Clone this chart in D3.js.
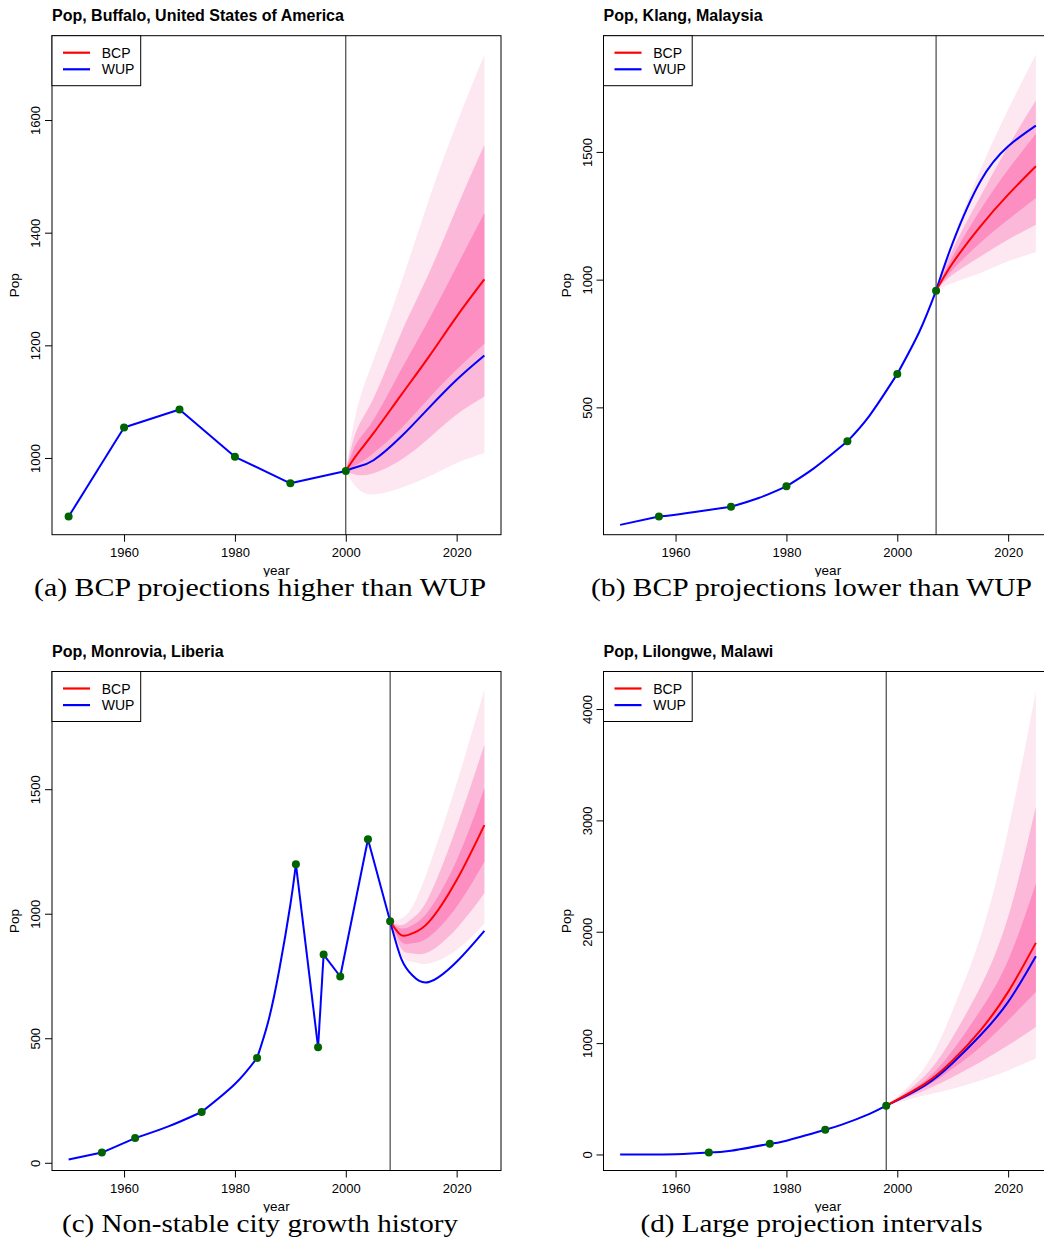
<!DOCTYPE html>
<html>
<head>
<meta charset="utf-8">
<script src="https://cdn.jsdelivr.net/npm/d3@7"></script>
<style>
  body { margin: 0; background: #fff; }
</style>
</head>
<body>
<script>
// ---- data (population, thousands) ----
const titles = ["Pop, Buffalo, United States of America", "Pop, Klang, Malaysia",
                "Pop, Monrovia, Liberia", "Pop, Lilongwe, Malawi"];
const captions = ["(a) BCP projections higher than WUP", "(b) BCP projections lower than WUP",
                  "(c) Non-stable city growth history", "(d) Large projection intervals"];
const xTicks = [1960, 1980, 2000, 2020];
const xLim = [1947, 2028];

// (a) Buffalo
const obsYearA = [1950, 1960, 1970, 1980, 1990, 2000];
const obsPopA  = [896, 1054, 1086, 1002, 955, 977];
const wupYearA = [1950, 1960, 1970, 1980, 1990, 2000, 2002, 2005, 2010, 2015, 2020, 2025];
const wupPopA  = [896, 1054, 1086, 1002, 955, 977, 984, 996, 1038, 1089, 1139, 1182];
const projYearA = [2000, 2002, 2005, 2010, 2015, 2020, 2025];
const bcpA  = [977, 1006, 1044, 1112, 1180, 1251, 1317];
const hi95A = [977, 1086, 1174, 1311, 1459, 1594, 1716];
const hi80A = [977, 1050, 1106, 1222, 1328, 1444, 1556];
const hi50A = [977, 1027, 1068, 1157, 1246, 1340, 1435];
const lo50A = [977, 988, 1009, 1053, 1106, 1157, 1203];
const lo80A = [977, 970, 973, 997, 1035, 1077, 1109];
const lo95A = [977, 947, 935, 947, 967, 991, 1009];
const yTicksA = [1000, 1200, 1400, 1600];
const yLimA = [863.8, 1749.7];

// (b) Klang
const obsYearB = [1957, 1970, 1980, 1991, 2000, 2007];
const obsPopB  = [73, 111, 191, 367, 631, 957];
const wupYearB = [1950, 1957, 1960, 1965, 1970, 1975, 1980, 1985, 1991, 1995, 2000, 2004, 2007, 2010, 2015, 2020, 2025];
const wupPopB  = [40, 73, 80, 95, 111, 145, 191, 262, 367, 468, 631, 797, 957, 1144, 1385, 1522, 1603];
const projYearB = [2007, 2010, 2015, 2020, 2025];
const bcpB  = [957, 1065, 1209, 1333, 1444];
const hi95B = [957, 1157, 1431, 1666, 1881];
const hi80B = [957, 1118, 1326, 1522, 1701];
const hi50B = [957, 1091, 1274, 1431, 1571];
const lo50B = [957, 1039, 1144, 1235, 1320];
const lo80B = [957, 1020, 1091, 1157, 1215];
const lo95B = [957, 987, 1026, 1072, 1107];
const yTicksB = [500, 1000, 1500];
const yLimB = [1.5, 1955];

// (c) Monrovia
const obsYearC = [1956, 1962, 1974, 1984, 1991, 1995, 1996, 1999, 2004, 2008];
const obsPopC  = [41, 99, 204, 421, 1199, 464, 836, 748, 1299, 970];
const wupYearC = [1950, 1956, 1962, 1968, 1974, 1980, 1984, 1986, 1988, 1990, 1991, 1995, 1996, 1999, 2004, 2008, 2010, 2012, 2015, 2020, 2025];
const wupPopC  = [13, 41, 99, 146, 204, 316, 421, 566, 775, 1036, 1199, 464, 836, 748, 1299, 970, 820, 753, 726, 807, 931];
const projYearC = [2008, 2010, 2012, 2015, 2020, 2025];
const bcpC  = [970, 914, 921, 967, 1135, 1356];
const hi95C = [970, 981, 1028, 1189, 1524, 1899];
const hi80C = [970, 954, 981, 1068, 1349, 1678];
const hi50C = [970, 941, 954, 1014, 1215, 1504];
const lo50C = [970, 887, 881, 907, 1028, 1209];
const lo80C = [970, 860, 840, 847, 941, 1082];
const lo95C = [970, 834, 807, 800, 854, 961];
const yTicksC = [0, 500, 1000, 1500];
const yLimC = [-31, 1972.6];

// (d) Lilongwe
const obsYearD = [1966, 1977, 1987, 1998];
const obsPopD  = [18, 96, 222, 438];
const wupYearD = [1950, 1960, 1966, 1970, 1977, 1980, 1987, 1990, 1995, 1998, 2005, 2010, 2015, 2020, 2025];
const wupPopD  = [0.5, 3, 18, 34, 96, 124, 222, 268, 365, 438, 620, 821, 1070, 1370, 1781];
const projYearD = [1998, 2005, 2010, 2015, 2020, 2025];
const bcpD  = [438, 636, 845, 1115, 1460, 1900];
const hi95D = [438, 785, 1295, 1954, 2914, 4157];
const hi80D = [438, 710, 1055, 1505, 2134, 3123];
const hi50D = [438, 665, 935, 1295, 1745, 2434];
const lo50D = [438, 605, 771, 965, 1205, 1460];
const lo80D = [438, 576, 695, 830, 980, 1145];
const lo95D = [438, 531, 591, 665, 755, 861];
const yTicksD = [0, 1000, 2000, 3000, 4000];
const yLimD = [-144, 4337];

const panels = [
  {obsYear: obsYearA, obsPop: obsPopA, wupYear: wupYearA, wupPop: wupPopA, proj: projYearA,
   bcp: bcpA, bands: [[lo95A, hi95A], [lo80A, hi80A], [lo50A, hi50A]], yTicks: yTicksA, yLim: yLimA},
  {obsYear: obsYearB, obsPop: obsPopB, wupYear: wupYearB, wupPop: wupPopB, proj: projYearB,
   bcp: bcpB, bands: [[lo95B, hi95B], [lo80B, hi80B], [lo50B, hi50B]], yTicks: yTicksB, yLim: yLimB},
  {obsYear: obsYearC, obsPop: obsPopC, wupYear: wupYearC, wupPop: wupPopC, proj: projYearC,
   bcp: bcpC, bands: [[lo95C, hi95C], [lo80C, hi80C], [lo50C, hi50C]], yTicks: yTicksC, yLim: yLimC},
  {obsYear: obsYearD, obsPop: obsPopD, wupYear: wupYearD, wupPop: wupPopD, proj: projYearD,
   bcp: bcpD, bands: [[lo95D, hi95D], [lo80D, hi80D], [lo50D, hi50D]], yTicks: yTicksD, yLim: yLimD}
];

const bandColors = ["#fde8f2", "#fcb8d8", "#fc8ec2"];
const captionWidth = [452, 441, 396, 342];

const width = 449, height = 499;

const svg = d3.select("body").append("svg")
              .attr("width", 1044)
              .attr("height", 1241)
              .style("font-family", "'Liberation Sans', Arial, Helvetica, sans-serif");

panels.forEach((p, i) => {
  const left = i % 2 ? 603.5 : 52,
        top = i < 2 ? 35.7 : 671.5;

  const x = d3.scaleLinear().domain(xLim).range([0, width]);
  const y = d3.scaleLinear().domain(p.yLim).range([height, 0]);

  const g = svg.append("g").attr("transform", "translate(" + left + "," + top + ")");

  g.append("clipPath").attr("id", "clip" + i)
    .append("rect").attr("width", width).attr("height", height);
  const plot = g.append("g").attr("clip-path", "url(#clip" + i + ")");

  // prediction intervals, widest first
  p.bands.forEach((b, k) => {
    const area = d3.area()
                   .x((d, j) => x(p.proj[j]))
                   .y0((d, j) => y(b[0][j]))
                   .y1((d, j) => y(b[1][j]))
                   .curve(d3.curveNatural);
    plot.append("path").attr("d", area(p.proj)).attr("fill", bandColors[k]);
  });

  // last observation year
  const lastYear = p.obsYear[p.obsYear.length - 1];
  plot.append("line")
      .attr("x1", x(lastYear)).attr("x2", x(lastYear))
      .attr("y1", 0).attr("y2", height)
      .attr("stroke", "#222").attr("stroke-width", 1);

  // WUP line: one smooth piece between each pair of observations, corners at the observations
  const line = d3.line().x(d => x(d[0])).y(d => y(d[1])).curve(d3.curveNatural);
  const pts = p.wupYear.map((yr, j) => [yr, p.wupPop[j]]);
  let start = 0;
  pts.forEach((d, j) => {
    if (j > start && (p.obsYear.includes(d[0]) || j === pts.length - 1)) {
      plot.append("path").attr("d", line(pts.slice(start, j + 1)))
          .attr("fill", "none").attr("stroke", "#0000ff").attr("stroke-width", 2);
      start = j;
    }
  });

  // BCP median
  plot.append("path")
      .attr("d", line(p.proj.map((yr, j) => [yr, p.bcp[j]])))
      .attr("fill", "none").attr("stroke", "#ff0000").attr("stroke-width", 2);

  // observations
  plot.selectAll("circle")
      .data(p.obsYear.map((yr, j) => [yr, p.obsPop[j]]))
      .enter().append("circle")
        .attr("cx", d => x(d[0]))
        .attr("cy", d => y(d[1]))
        .attr("r", 4)
        .attr("fill", "#006400");

  // box
  g.append("rect").attr("width", width).attr("height", height)
    .attr("fill", "none").attr("stroke", "#000").attr("stroke-width", 1);

  // axes
  const xAxis = g.append("g").attr("transform", "translate(0," + height + ")")
    .call(d3.axisBottom(x).tickValues(xTicks).tickSize(7).tickPadding(6).tickFormat(d3.format("d")));
  xAxis.select(".domain").remove();
  xAxis.attr("font-size", 13).attr("font-family", null);
  xAxis.selectAll("line").attr("stroke", "#000");
  xAxis.selectAll("text").attr("fill", "#000");

  const yAxis = g.append("g")
    .call(d3.axisLeft(y).tickValues(p.yTicks).tickSize(7).tickFormat(d3.format("d")));
  yAxis.select(".domain").remove();
  yAxis.attr("font-size", 13).attr("font-family", null);
  yAxis.selectAll("line").attr("stroke", "#000");
  yAxis.selectAll("text")
       .attr("x", 0).attr("y", -11.7).attr("dy", null)
       .attr("transform", "rotate(-90)")
       .attr("text-anchor", "middle")
       .attr("fill", "#000");

  // labels
  g.append("text")
    .attr("x", 0).attr("y", -15)
    .style("font-size", "16px").style("font-weight", "bold")
    .text(titles[i]);

  g.append("text")
    .attr("transform", "translate(-33," + (height / 2) + ") rotate(-90)")
    .style("text-anchor", "middle").style("font-size", "13.5px")
    .text("Pop");

  g.append("text")
    .attr("x", width / 2).attr("y", height + 40)
    .style("text-anchor", "middle").style("font-size", "13.5px")
    .text("year");

  // legend
  const leg = g.append("g");
  leg.append("rect").attr("width", 88.7).attr("height", 50)
     .attr("fill", "#fff").attr("stroke", "#000").attr("stroke-width", 1);
  [["BCP", "#ff0000"], ["WUP", "#0000ff"]].forEach((l, k) => {
    const ly = 17 + k * 16.6;
    leg.append("line").attr("x1", 11).attr("x2", 38).attr("y1", ly).attr("y2", ly)
       .attr("stroke", l[1]).attr("stroke-width", 2.2);
    leg.append("text").attr("x", 49.7).attr("y", ly).attr("dy", "0.36em")
       .style("font-size", "14px").text(l[0]);
  });

  // sub-figure caption (its band hides the tail of "year", as in the paper)
  g.append("rect")
    .attr("x", -52).attr("y", height + 42).attr("width", 520).attr("height", 26)
    .attr("fill", "#fff");
  g.append("text")
    .attr("x", 208).attr("y", height + 61.7)
    .attr("text-anchor", "middle")
    .attr("textLength", captionWidth[i]).attr("lengthAdjust", "spacingAndGlyphs")
    .style("font-family", "'Liberation Serif', 'Times New Roman', serif")
    .style("font-size", "25px")
    .text(captions[i]);
});
</script>
</body>
</html>
